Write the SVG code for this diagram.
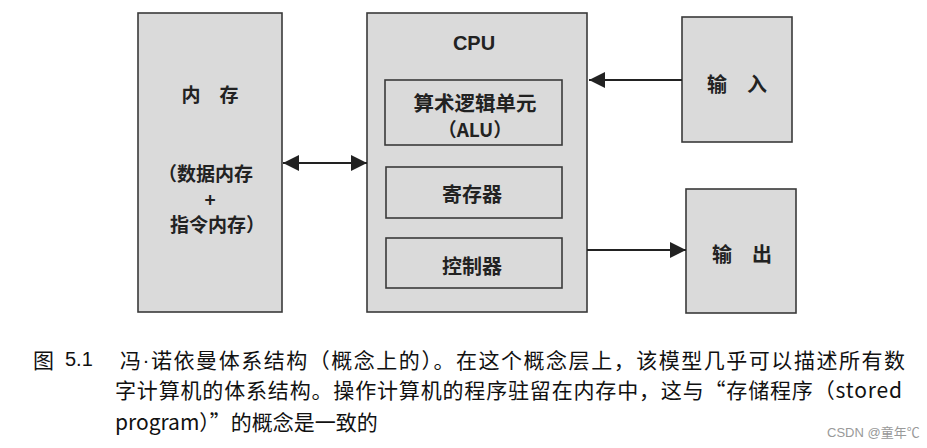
<svg xmlns="http://www.w3.org/2000/svg" width="927" height="448" viewBox="0 0 927 448">
<style>
.box{fill:#dadada;stroke:#3a3a3a;stroke-width:1.6}
.inner{fill:#dadada;stroke:#3a3a3a;stroke-width:1.6}
.t{font-family:"Noto Sans CJK SC","Liberation Sans",sans-serif;font-size:19px;fill:#222;text-anchor:middle;dominant-baseline:central;font-weight:bold}
.tl{font-family:"Noto Sans CJK SC","Liberation Sans",sans-serif;font-size:19px;fill:#222;dominant-baseline:central;font-weight:bold}
.cpu{font-family:"Liberation Sans",Arial,sans-serif;font-size:20px;font-weight:bold;fill:#222;text-anchor:middle;dominant-baseline:central}
.cap{font-family:"Noto Sans CJK SC","Liberation Sans",sans-serif;font-size:21px;fill:#111;dominant-baseline:central}
.lat{font-family:"Liberation Sans",Arial,sans-serif}
.wm{font-family:"Liberation Sans","Noto Sans CJK SC",sans-serif;font-size:13px;fill:#999;dominant-baseline:central}
.conn{stroke:#222;stroke-width:2.2;fill:none}
</style>
<defs>
<marker id="ah" viewBox="0 0 16 16" refX="16" refY="8" markerWidth="16" markerHeight="16" markerUnits="userSpaceOnUse" orient="auto-start-reverse">
<path d="M0,0 L16,8 L0,16 Z" fill="#222"/>
</marker>
</defs>
<rect width="927" height="448" fill="#ffffff"/>
<g id="memory">
<rect class="box" x="138" y="13" width="144" height="299"/>
<text class="t" x="210" y="93">内　存</text>
<text class="tl" x="158" y="172">（数据内存</text>
<text class="t" x="210" y="198">+</text>
<text class="tl" x="170" y="223">指令内存）</text>
</g>
<g id="cpu">
<rect class="box" x="367" y="13" width="220" height="299"/>
<text class="cpu" x="474" y="43">CPU</text>
</g>
<g id="alu">
<rect class="inner" x="385" y="80" width="177" height="65"/>
<text class="t" x="475" y="102" style="font-size:20.5px">算术逻辑单元</text>
<text class="t" x="475" y="128">（ALU）</text>
</g>
<g id="register">
<rect class="inner" x="386" y="167" width="176" height="51"/>
<text class="t" x="472" y="193" style="font-size:20px">寄存器</text>
</g>
<g id="controller">
<rect class="inner" x="386" y="238" width="176" height="50"/>
<text class="t" x="472" y="265" style="font-size:20px">控制器</text>
</g>
<g id="input">
<rect class="box" x="682" y="17" width="110" height="125"/>
<text class="t" x="737" y="83" style="font-size:20px">输　入</text>
</g>
<g id="output">
<rect class="box" x="686" y="189" width="110" height="124"/>
<text class="t" x="742" y="253" style="font-size:20px">输　出</text>
</g>
<g id="connectors">
<line class="conn" x1="283" y1="163" x2="367" y2="163" marker-start="url(#ah)" marker-end="url(#ah)"/>
<line class="conn" x1="682" y1="80" x2="589" y2="80" marker-end="url(#ah)"/>
<line class="conn" x1="587" y1="250" x2="686" y2="250" marker-end="url(#ah)"/>
</g>
<g id="caption">
<text class="cap" x="33" y="359">图</text>
<text class="cap lat" x="65" y="359" style="font-size:20px">5.1</text>
<text class="cap" x="120" y="359" textLength="785" lengthAdjust="spacing">冯<tspan class="lat">·</tspan>诺依曼体系结构（概念上的）。在这个概念层上，该模型几乎可以描述所有数</text>
<text class="cap" x="115" y="389" textLength="787" lengthAdjust="spacing">字计算机的体系结构。操作计算机的程序驻留在内存中，这与“存储程序（stored</text>
<text class="cap" x="115" y="421">program）”的概念是一致的</text>
<text class="wm" x="827" y="432">CSDN @童年℃</text>
</g>
</svg>
